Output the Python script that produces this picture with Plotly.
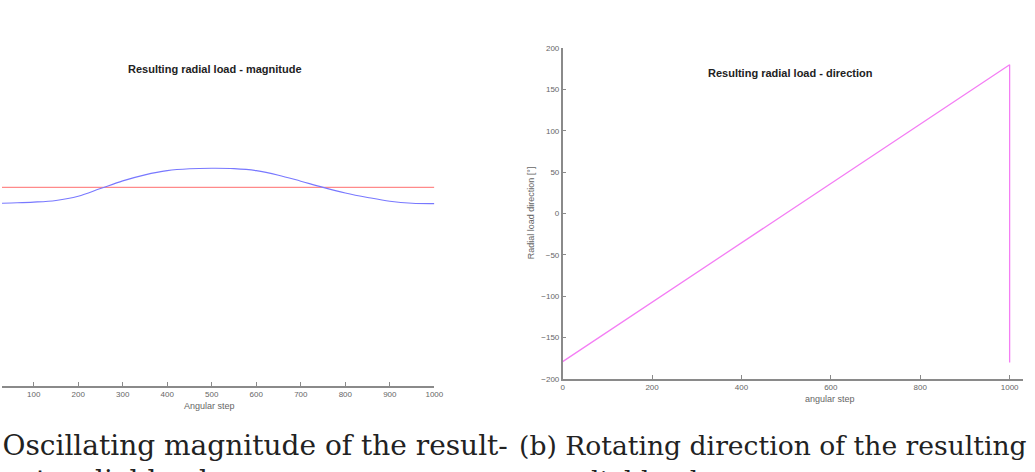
import plotly.graph_objects as go

W, H = 1035, 472

# ---- data: left panel (magnitude) ----
mag_steps = [0, 50, 100, 150, 200, 250, 300, 350, 400, 450, 500,
             550, 600, 650, 700, 750, 800, 850, 900, 950, 1000]
mag_values = [10.88, 10.92, 10.97, 11.07, 11.32, 11.78, 12.24, 12.60, 12.85, 12.96, 12.99,
              12.97, 12.85, 12.58, 12.22, 11.85, 11.52, 11.25, 11.02, 10.90, 10.88]
mean_steps = [0, 1000]
mean_values = [11.85, 11.85]
mag_ticks = [100, 200, 300, 400, 500, 600, 700, 800, 900, 1000]

# ---- data: right panel (direction) ----
dir_steps = [0, 1000, 1000]
dir_values = [-179, 180, -180]
dir_xticks = [0, 200, 400, 600, 800, 1000]
dir_yticks = [-200, -150, -100, -50, 0, 50, 100, 150, 200]


def px(x):
    return x / W


def py(y):
    return 1 - y / H


fig = go.Figure()
fig.add_trace(go.Scatter(x=mean_steps, y=mean_values, mode="lines",
                         line=dict(color="#ff8a8a", width=1.3), xaxis="x", yaxis="y",
                         showlegend=False))
fig.add_trace(go.Scatter(x=mag_steps, y=mag_values, mode="lines",
                         line=dict(color="#7878ff", width=1.1, shape="spline", smoothing=1.0),
                         xaxis="x", yaxis="y", showlegend=False))
fig.add_trace(go.Scatter(x=dir_steps, y=dir_values, mode="lines",
                         line=dict(color="#f47ef4", width=1.3), xaxis="x2", yaxis="y2",
                         showlegend=False))

axis_col = "#8a8a8a"
tick_font = dict(family="Liberation Sans, Arial, sans-serif", size=8, color="#666666")

fig.update_layout(
    width=W, height=H,
    margin=dict(l=0, r=0, t=0, b=0),
    paper_bgcolor="white", plot_bgcolor="white",
    xaxis=dict(domain=[0, px(437)], range=[28.8, 1000], tickvals=mag_ticks,
               showline=True, linecolor=axis_col, linewidth=1.5,
               ticks="inside", ticklen=4, tickcolor=axis_col, tickwidth=1,
               showgrid=False, zeroline=False, tickfont=tick_font, anchor="y"),
    yaxis=dict(domain=[py(389), py(48)], range=[0, 20], visible=False, anchor="x"),
    xaxis2=dict(domain=[px(566.7), px(1032)], range=[0, 1030], tickvals=dir_xticks,
                showline=True, linecolor=axis_col, linewidth=1.5,
                ticks="inside", ticklen=4, tickcolor=axis_col, tickwidth=1,
                showgrid=False, zeroline=False, tickfont=tick_font, anchor="y2"),
    yaxis2=dict(domain=[py(382.3), py(45)], range=[-200, 200], tickvals=dir_yticks,
                showline=True, linecolor=axis_col, linewidth=1.5,
                ticks="inside", ticklen=4, tickcolor=axis_col, tickwidth=1,
                showgrid=False, zeroline=False, tickfont=tick_font, anchor="x2"),
)

ann = []
title_font = dict(family="Liberation Sans, Arial, sans-serif", size=11, color="#222222")
ann.append(dict(text="<b>Resulting radial load - magnitude</b>", x=px(215), y=py(66),
                font=title_font))
ann.append(dict(text="<b>Resulting radial load - direction</b>", x=px(797), y=py(70),
                font=title_font))
lab_font = dict(family="Liberation Sans, Arial, sans-serif", size=9, color="#666666")
ann.append(dict(text="Angular step", x=px(210), y=py(410), font=lab_font))
ann.append(dict(text="angular step", x=px(837), y=py(403), font=lab_font))
ann.append(dict(text="Radial load direction [°]", x=px(535), y=py(213), font=lab_font,
                textangle=-90))

cap_a = dict(family="DejaVu Serif, serif", size=28, color="#222222")
cap_b = dict(family="DejaVu Serif, serif", size=26.6, color="#222222")
ann.append(dict(text="(a) Oscillating magnitude of the result-", x=px(513), y=py(450),
                xanchor="right", font=cap_a))
ann.append(dict(text="ant radial load.", x=px(-3), y=py(486),
                xanchor="left", font=cap_a))
ann.append(dict(text="(b) Rotating direction of the resulting", x=px(521), y=py(450),
                xanchor="left", font=cap_b))
ann.append(dict(text="radial load.", x=px(556), y=py(486),
                xanchor="left", font=cap_b))

for a in ann:
    a.setdefault("xanchor", "center")
    a.setdefault("yanchor", "middle")
    a.update(xref="paper", yref="paper", showarrow=False)
fig.update_layout(annotations=ann)

fig.write_html("out.html")
